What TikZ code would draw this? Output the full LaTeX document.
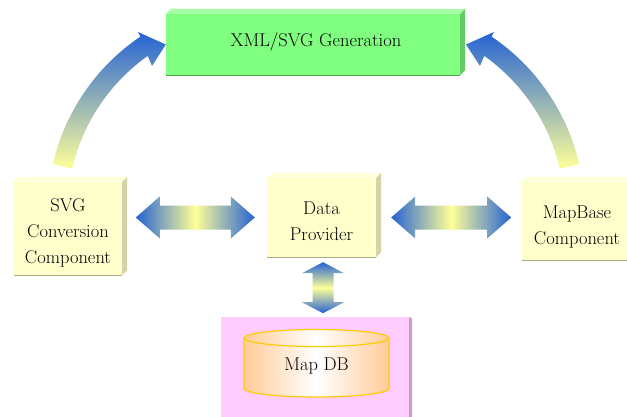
\documentclass[tikz,border=0pt]{standalone}
\usepackage{tikz}

\definecolor{genfront}{HTML}{80FF80}
\definecolor{genside}{HTML}{62CC62}
\definecolor{boxfront}{HTML}{FFFFCC}
\definecolor{boxside}{HTML}{D4D4A6}
\definecolor{dbfront}{HTML}{FFCCFF}
\definecolor{dbside}{HTML}{C8A0C8}
\definecolor{arrblue}{HTML}{2563D3}
\definecolor{arryellow}{HTML}{FFFF99}
\definecolor{cylfill}{HTML}{FFCC99}
\definecolor{cylline}{HTML}{FFCC00}

\begin{document}
\begin{tikzpicture}[x=1pt, y=-1pt]
    \tikzstyle{every node} = [inner sep=0pt, align=center, font=\fontsize{18.5}{26}\selectfont]
    \tikzstyle{box} = [rectangle, fill=boxfront, minimum width=108pt]
    \tikzstyle{vshade} = [top color=arrblue, bottom color=arryellow]
    \tikzstyle{hshade} = [left color=arrblue, right color=arrblue, middle color=arryellow]
    \tikzstyle{ushade} = [top color=arrblue, bottom color=arrblue, middle color=arryellow]
    \useasboundingbox (0,0) rectangle (627,416);
    \fill[white] (0,0) rectangle (627,416);

    % boxes
    \node (gen) [rectangle, fill=genfront, minimum width=294pt, minimum height=61pt] at (313, 44.5) {};
    \node (svg) [box, minimum height=93pt] at (68, 228.5) {};
    \node (prov) [box, minimum width=109pt, minimum height=79pt] at (321.5, 217.5) {};
    \node (base) [box, minimum width=110pt, minimum height=78pt] at (577, 221) {};
    \node (store) [rectangle, fill=dbfront, minimum width=188pt, minimum height=103pt] at (315, 368.5) {};

    % 3d faces
    \foreach \n/\f/\s in {gen/genfront/genside, svg/boxfront/boxside, prov/boxfront/boxside, base/boxfront/boxside} {
      \fill[\f!70!white] (\n.north west) -- ++(5,-5) -- ([shift={(5,-5)}]\n.north east) -- (\n.north east) -- cycle;
      \fill[\s] (\n.north east) -- ++(5,-5) -- ([shift={(5,-5)}]\n.south east) -- (\n.south east) -- cycle;
      \draw[\s!80!black, line width=0.8pt] (\n.south west) -- (\n.south east);
    }
    \fill[dbside] (store.north east) -- ++(3,2) -- ([xshift=3pt]store.south east) -- (store.south east) -- cycle;

    % labels
    \node (genlabel) at ([shift={(3,-2.5)}]gen.center) {XML/SVG Generation};
    \node (svglabel) at ([yshift=-4pt]svg.center) {SVG\\Conversion\\Component};
    \node (provlabel) at ([yshift=-4pt]prov.center) {Data\\Provider};
    \node (baselabel) at ([yshift=-6pt]base.center) {MapBase\\Component};

    % database
    \shade[left color=cylfill, right color=cylfill, middle color=white, draw=cylline, line width=1.2pt]
      (244,338) -- (244,388.5) arc[start angle=180, end angle=0, x radius=72.5, y radius=8.5]
      -- (389,338) arc[start angle=0, end angle=-180, x radius=72.5, y radius=8.5] -- cycle;
    \draw[cylline, line width=1.2pt] (244,338) arc[start angle=180, end angle=0, x radius=72.5, y radius=8.5];
    \node (db) at (316.5, 366) {Map DB};

    % curved arrows to the generator
    \shade[vshade] (52.8,164.1) arc[start angle=-167, end angle=-124, radius=211] -- (138,32)
      -- (gen.west) -- (152,66) -- (147.7,55.9) arc[start angle=-125.4, end angle=-167, radius=191] -- cycle;
    \begin{scope}[xshift=632pt, xscale=-1]
      \shade[vshade] (52.8,164.1) arc[start angle=-167, end angle=-124, radius=211] -- (138,32)
        -- (166,44.5) -- (152,66) -- (147.7,55.9) arc[start angle=-125.4, end angle=-167, radius=191] -- cycle;
    \end{scope}

    % double arrows
    \shade[hshade] ([xshift=-12pt]prov.west) -- ++(-24,-21) -- ++(0,9) -- ++(-71,0) -- ++(0,-9)
      -- ++(-24,21) -- ++(24,21) -- ++(0,-9) -- ++(71,0) -- ++(0,9) -- cycle;
    \shade[hshade] ([xshift=15pt]prov.east) -- ++(24,-21) -- ++(0,9) -- ++(72,0) -- ++(0,-9)
      -- ++(24,21) -- ++(-24,21) -- ++(0,-9) -- ++(-72,0) -- ++(0,9) -- cycle;
    \shade[ushade] ([shift={(1.5,5)}]prov.south) -- ++(21,11) -- ++(-10.5,0) -- ++(0,29) -- ++(10.5,0)
      -- ++(-21,11) -- ++(-21,-11) -- ++(10.5,0) -- ++(0,-29) -- ++(-10.5,0) -- cycle;
\end{tikzpicture}
\end{document}
